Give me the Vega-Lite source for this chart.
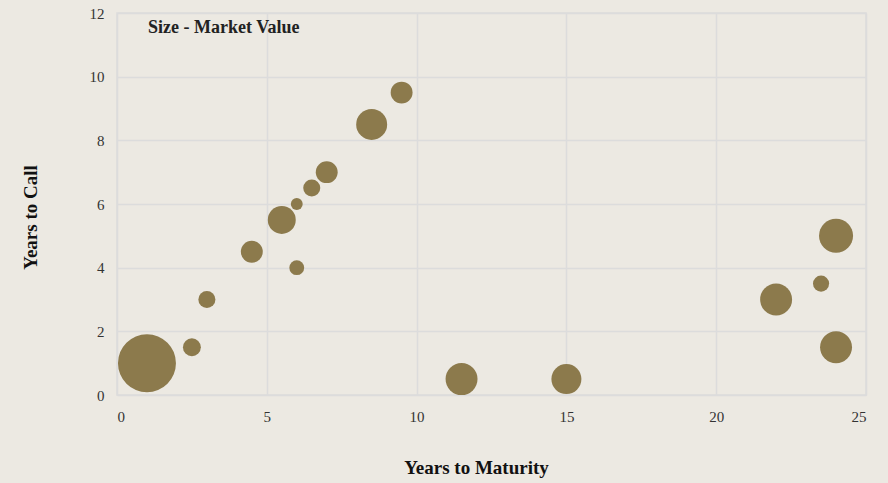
{
  "$schema": "https://vega.github.io/schema/vega-lite/v6.json",
  "autosize": "none",
  "width": 749,
  "height": 382,
  "padding": {"left": 117, "top": 13, "right": 22, "bottom": 88},
  "background": "#ECE9E2",
  "config": {
    "view": {"stroke": "#DCDCDC", "strokeWidth": 1.5},
    "font": "Liberation Serif"
  },
  "title": {
    "text": "Size - Market Value",
    "anchor": "start",
    "frame": "group",
    "orient": "top",
    "baseline": "middle",
    "dx": 31,
    "dy": 44,
    "fontSize": 18,
    "fontWeight": "bold",
    "color": "#222222",
    "font": "Liberation Serif"
  },
  "data": {
    "values": [
      {"maturity": 1, "call": 1, "value": 33.6},
      {"maturity": 2.5, "call": 1.5, "value": 3.2},
      {"maturity": 3, "call": 3, "value": 2.9},
      {"maturity": 4.5, "call": 4.5, "value": 4.8},
      {"maturity": 5.5, "call": 5.5, "value": 7.8},
      {"maturity": 6, "call": 6, "value": 1.4},
      {"maturity": 6, "call": 4, "value": 2.2},
      {"maturity": 6.5, "call": 6.5, "value": 2.9},
      {"maturity": 7, "call": 7, "value": 4.8},
      {"maturity": 8.5, "call": 8.5, "value": 9.6},
      {"maturity": 9.5, "call": 9.5, "value": 4.8},
      {"maturity": 11.5, "call": 0.5, "value": 10.2},
      {"maturity": 15, "call": 0.5, "value": 9.0},
      {"maturity": 22, "call": 3, "value": 10.2},
      {"maturity": 23.5, "call": 3.5, "value": 2.6},
      {"maturity": 24, "call": 5, "value": 11.6},
      {"maturity": 24, "call": 1.5, "value": 10.2}
    ]
  },
  "mark": {"type": "circle", "color": "#8C7A4C", "opacity": 1},
  "encoding": {
    "x": {
      "field": "maturity",
      "type": "quantitative",
      "scale": {"domain": [0, 25], "nice": false, "zero": true},
      "axis": {
        "values": [0, 5, 10, 15, 20, 25],
        "title": "Years to Maturity",
        "titleFont": "Liberation Serif",
        "titleFontSize": 19,
        "titleFontWeight": "bold",
        "titleColor": "#111111",
        "titlePadding": 34,
        "titleX": 359,
        "titleAlign": "center",
        "labelFont": "Liberation Serif",
        "labelFontSize": 15,
        "labelColor": "#333333",
        "labelPadding": 14,
        "ticks": false,
        "domain": false,
        "grid": true,
        "gridColor": "#DCDCDC",
        "gridWidth": 1.5
      }
    },
    "y": {
      "field": "call",
      "type": "quantitative",
      "scale": {"domain": [0, 12], "nice": false},
      "axis": {
        "values": [0, 2, 4, 6, 8, 10, 12],
        "title": "Years to Call",
        "titleFont": "Liberation Serif",
        "titleFontSize": 19,
        "titleFontWeight": "bold",
        "titleColor": "#111111",
        "titlePadding": 49,
        "titleY": 204,
        "titleAlign": "center",
        "labelFont": "Liberation Serif",
        "labelFontSize": 15,
        "labelColor": "#333333",
        "labelPadding": 13,
        "ticks": false,
        "domain": false,
        "grid": true,
        "gridColor": "#DCDCDC",
        "gridWidth": 1.5
      }
    },
    "size": {
      "field": "value",
      "type": "quantitative",
      "title": "Market Value",
      "scale": {"type": "linear", "domain": [0, 100], "range": [0, 10000]},
      "legend": null
    }
  }
}
